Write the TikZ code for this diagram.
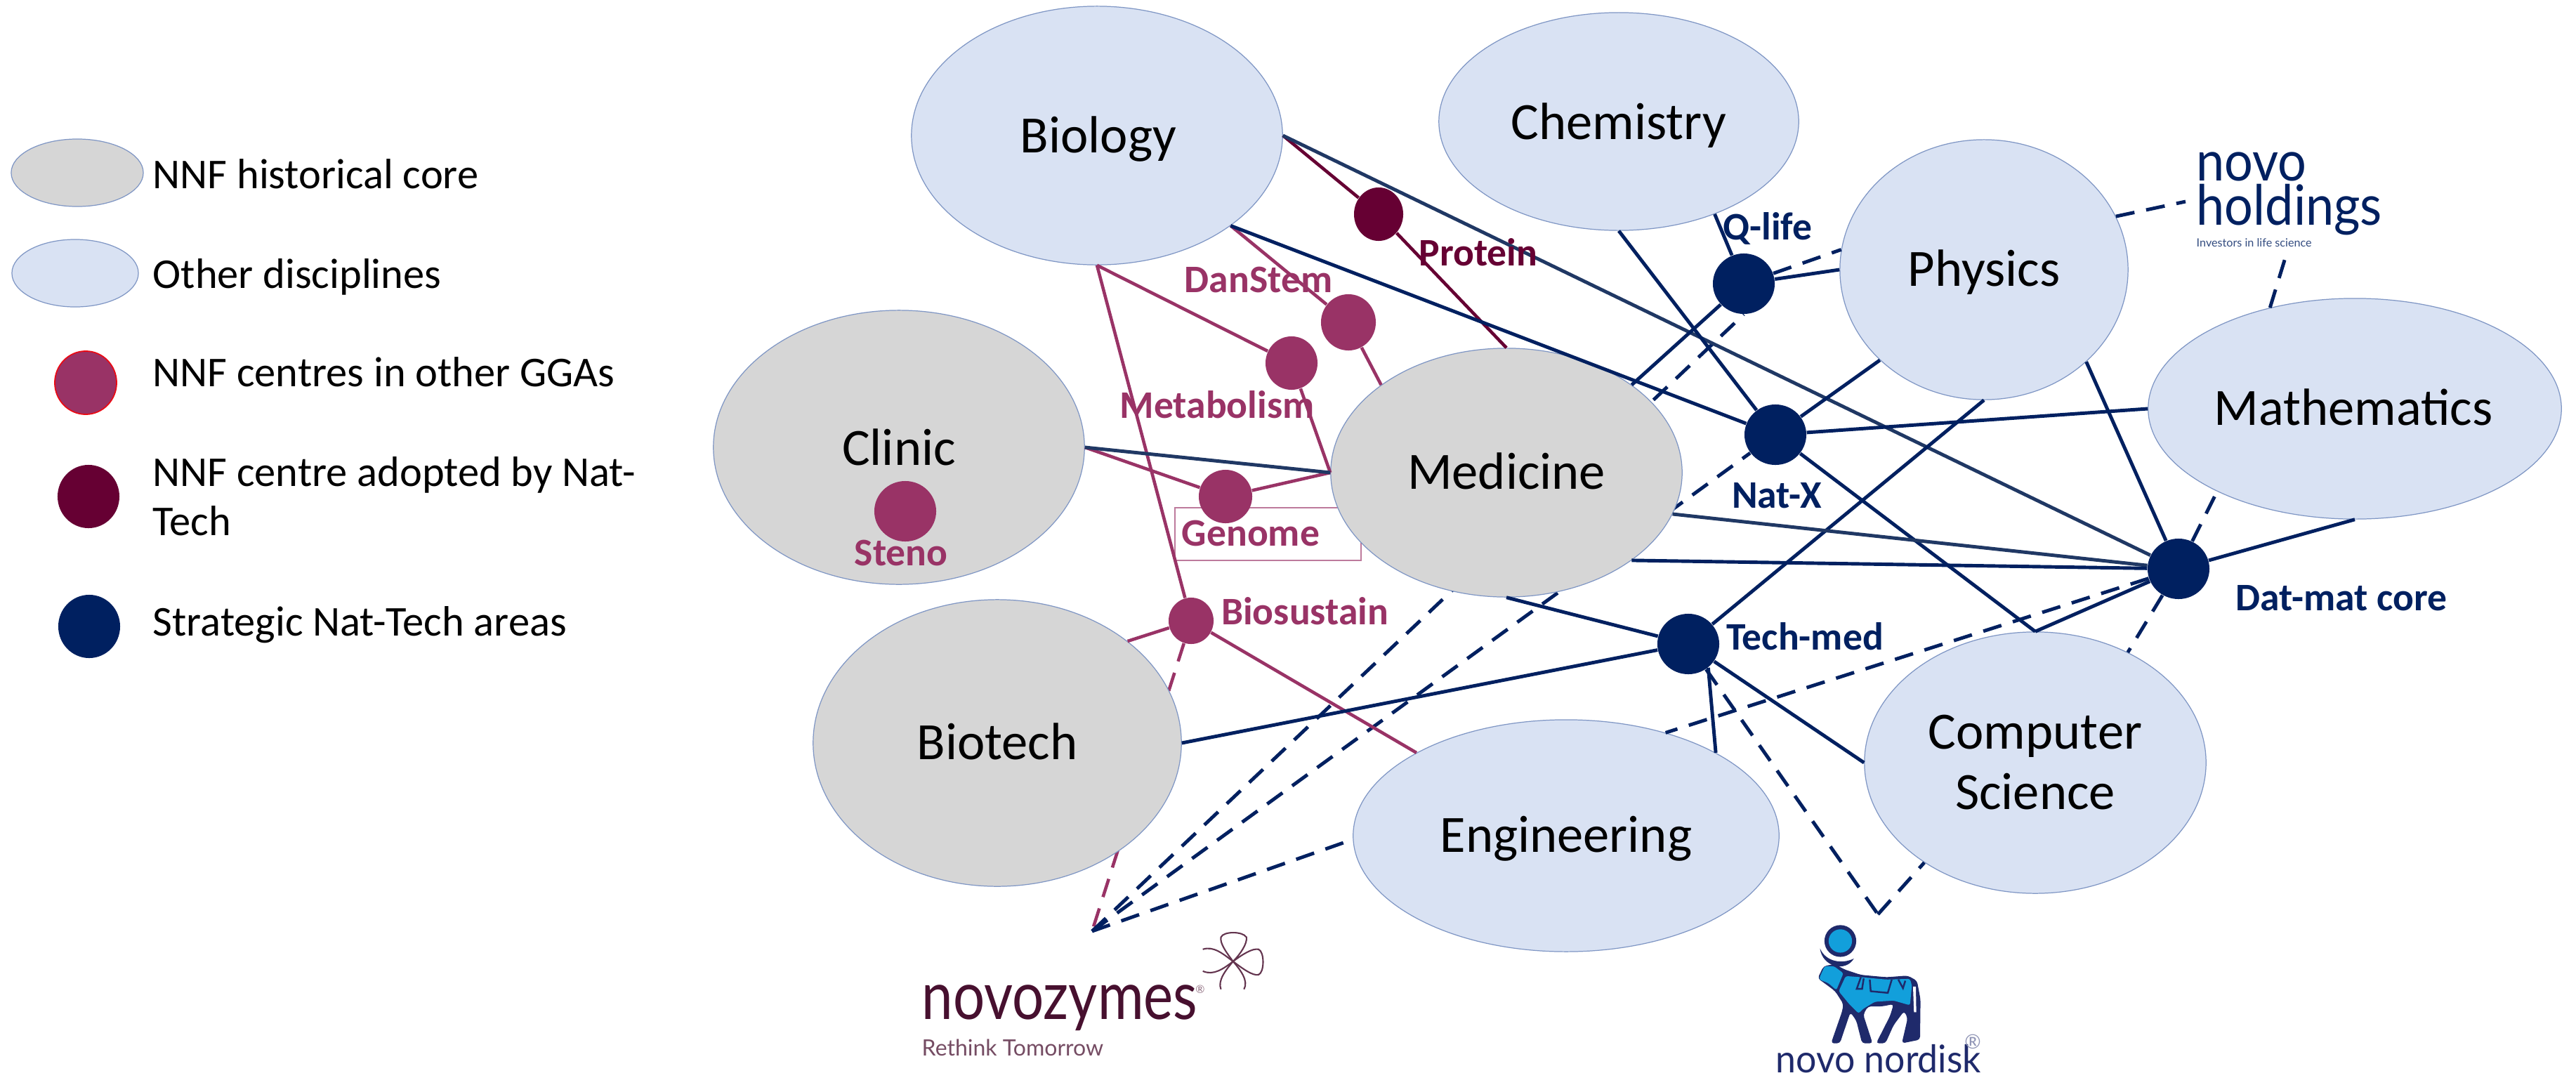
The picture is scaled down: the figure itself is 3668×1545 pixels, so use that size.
\documentclass[tikz,border=0pt]{standalone}
\usepackage{graphicx}
\usepackage{fontspec}
\setmainfont{Carlito}
\newfontfamily\logofont{Lato}
\usetikzlibrary{shapes.geometric}
\pgfdeclarelayer{bg}
\pgfsetlayers{bg,main}
\definecolor{navy}{HTML}{002060}
\definecolor{slate}{HTML}{203864}
\definecolor{mag}{HTML}{993366}
\definecolor{maroon}{HTML}{660033}
\definecolor{coregrey}{HTML}{D6D6D6}
\definecolor{discblue}{HTML}{D9E2F3}
\definecolor{edgeblue}{HTML}{7F96C4}
\definecolor{bullblue}{HTML}{129FDB}
\definecolor{bullnavy}{HTML}{1F2A6B}
\definecolor{zymes}{HTML}{47102F}
\tikzset{
  el/.style n args={2}{ellipse,inner sep=0pt,minimum width=#1*0.02cm,minimum height=#2*0.02cm,draw=edgeblue,line width=0.35pt,text=black,align=center},
  core/.style 2 args={el={#1}{#2},fill=coregrey},
  disc/.style 2 args={el={#1}{#2},fill=discblue},
  dot/.style n args={3}{ellipse,inner sep=0pt,minimum width=#1*0.02cm,minimum height=#2*0.02cm,fill=#3},
  leg/.style={anchor=base west,inner sep=0pt,font=\fontsize{17.2}{20}\selectfont,text=black},
  big/.style={anchor=base,inner sep=0pt,font=\fontsize{21.2}{25}\selectfont,text=black},
  lab/.style={anchor=base,inner sep=0pt,font=\fontsize{15.8}{18}\selectfont\bfseries},
  nv/.style={draw=navy,line width=1.4pt},
  sl/.style={draw=slate,line width=1.4pt},
  mg/.style={draw=mag,line width=1.3pt},
  mr/.style={draw=maroon,line width=1.3pt},
  nvd/.style={nv,dash pattern=on 0.27cm off 0.17cm},
  mgd/.style={mg,dash pattern=on 0.27cm off 0.17cm},
}
\begin{document}
\begin{tikzpicture}[x=0.01cm,y=-0.01cm]
\useasboundingbox (0,0) rectangle (3668,1545);
% legend
\node[core={94}{48}] (lgrey) at (110,246) {};
\node[disc={90}{48}] (lblue) at (107,389) {};
\node[dot={44}{45}{mag},draw=red!80!mag,line width=0.5pt] (lmag) at (122,545) {};
\node[dot={44}{45}{maroon}] (lmar) at (126,707) {};
\node[dot={44}{45}{navy}] (lnav) at (127,892) {};
\node[leg] (t1) at (217,268) {NNF historical core};
\node[leg] (t2) at (217,410) {Other disciplines};
\node[leg] (t3) at (217,550) {NNF centres in other GGAs};
\node[leg] (t4) at (217,692) {NNF centre adopted by Nat-};
\node[leg] (t4b) at (217,762) {Tech};
\node[leg] (t5) at (217,905) {Strategic Nat-Tech areas};
% disciplines
\node[disc={264}{184}] (bio) at (1562,193) {};
\node[core={264}{195}] (cli) at (1280,637) {};
\node[disc={256}{155}] (che) at (2305,173) {};
\node[disc={205}{185}] (phy) at (2825,384) {};
\node[disc={294}{157}] (mat) at (3353,582) {};
\node[core={250}{177}] (med) at (2145,673) {};
\node[core={262}{204}] (bte) at (1420,1058) {};
\node[disc={303}{165}] (eng) at (2230,1190) {};
\node[disc={243}{186}] (css) at (2898,1086) {};
% centres
\node[dot={35}{38}{maroon}] (pro) at (1963,305) {};
\node[dot={39}{40}{mag}] (dan) at (1920,459) {};
\node[dot={37}{38}{mag}] (met) at (1839,517) {};
\node[dot={38}{38}{mag}] (gen) at (1745,707) {};
\node[dot={44}{43}{mag}] (ste) at (1289,728) {};
\node[dot={32}{33}{mag}] (bis) at (1696,884) {};
\node[dot={44}{43}{navy}] (qli) at (2483,404) {};
\node[dot={44}{43}{navy}] (nax) at (2528,619) {};
\node[dot={44}{43}{navy}] (dmc) at (3102,810) {};
\node[dot={44}{43}{navy}] (tec) at (2404,917) {};
% free ends
\coordinate (nz) at (1555,1326);
\coordinate (nn) at (2674,1302);
\coordinate (hl) at (3112,287);
\coordinate (hb) at (3255,364);
% lines behind discs
\begin{pgfonlayer}{bg}
\draw[draw=mag!65,line width=0.4pt] (1673,723) rectangle (1938,798);
\draw[mgd] (bis) -- (nz);
\draw[nvd] (nz) -- (qli.south);
\draw[nvd] (nz) -- (nax);
\end{pgfonlayer}
% magenta + maroon
\draw[mr] (bio.east) -- (pro);
\draw[mr] (pro) -- (med.north);
\draw[mg] (bio.-34.5) -- (dan);
\draw[mg] (dan) -- (med.145.4);
\draw[mg] (bio.south) -- (met);
\draw[mg] (met) -- (med.west);
\draw[mg] (cli.east) -- (gen);
\draw[mg] (gen) -- (med.west);
\draw[mg] (bio.south) -- (bis);
\draw[mg] (bte.38) -- (bis);
\draw[mg] (bis) -- (eng.151.9);
% navy
\draw[sl] (bio.east) -- (dmc);
\draw[nv] (bio.-34.5) -- (nax);
\draw[sl] (cli.east) -- (med.west);
\draw[nv] (che.south) -- (nax);
\draw[nv] (che.-44) -- (qli);
\draw[nv] (qli) -- (phy.west);
\draw[nvd] (qli) -- (phy.172.5);
\draw[nv] (qli) -- (med.35.9);
\draw[nv] (nax) -- (phy.221.7);
\draw[nv] (nax) -- (mat.west);
\draw[nv] (nax) -- (css.north);
\draw[nv] (phy.-42) -- (dmc);
\draw[nv] (phy.south) -- (tec);
\draw[sl] (med.-14.3) -- (dmc);
\draw[nv] (med.-35.2) -- (dmc);
\draw[nv] (med.south) -- (tec);
\draw[nv] (bte.east) -- (tec);
\draw[nv] (tec.-50) -- (eng.29);
\draw[nv] (tec) -- (css.west);
\draw[nv] (dmc) -- (css.north);
\draw[nv] (dmc) -- (mat.south);
\draw[nvd] (dmc) -- (mat.211);
\draw[nvd] (dmc) -- (css.50);
\draw[nvd] (dmc) -- (eng.46);
\draw[nvd] (nz) -- (eng.181);
\draw[nvd] (tec) -- (nn);
\draw[nvd] (nn) -- (css.222.6);
\draw[nvd] (phy.22.6) -- (hl);
\draw[nvd] (mat.130) -- (hb);
% discipline names
\node[big] (nbio) at (1564,217) {Biology};
\node[big] (ncli) at (1280,662) {Clinic};
\node[big] (nche) at (2305,198) {Chemistry};
\node[big] (nphy) at (2825,407) {Physics};
\node[big] (nmat) at (3351,605) {Mathematics};
\node[big] (nmed) at (2145,696) {Medicine};
\node[big] (nbte) at (1420,1081) {Biotech};
\node[big] (neng) at (2230,1213) {Engineering};
\node[big] (ncs1) at (2898,1066) {Computer};
\node[big] (ncs2) at (2898,1152) {Science};
% centre names
\node[lab,text=mag] (lste) at (1283,805) {Steno};
\node[lab,text=mag] (ldan) at (1792,416) {DanStem};
\node[lab,text=mag] (lmet) at (1733,595) {Metabolism};
\node[lab,text=mag] (lgen) at (1781,777) {Genome};
\node[lab,text=mag] (lbis) at (1858,889) {Biosustain};
\node[lab,text=maroon] (lpro) at (2105,378) {Protein};
\node[lab,text=navy] (lqli) at (2517,341) {Q-life};
\node[lab,text=navy] (lnax) at (2530,723) {Nat-X};
\node[lab,text=navy] (ltec) at (2570,925) {Tech-med};
\node[lab,text=navy] (ldmc) at (3334,869) {Dat-mat core};
% novo holdings logo
\node[anchor=base west,inner sep=0pt,text=navy,font=\logofont\fontsize{22.5}{25}\selectfont] (hn1) at (3127,257) {\scalebox{0.91}[1]{novo}};
\node[anchor=base west,inner sep=0pt,text=navy,font=\logofont\fontsize{22.5}{25}\selectfont] (hn2) at (3127,320) {\scalebox{0.91}[1]{holdings}};
\node[anchor=base west,inner sep=0pt,text=navy!80,font=\logofont\fontsize{4.6}{6}\selectfont] (hn3) at (3127,351) {Investors in life science};
% novozymes logo
\node[anchor=base west,inner sep=0pt,text=zymes,font=\logofont\fontsize{27}{30}\selectfont] (nz1) at (1312,1451) {\scalebox{0.84}[1]{novozymes}};
\node[anchor=base west,inner sep=0pt,text=zymes!75,font=\logofont\fontsize{9.1}{10}\selectfont] (nz2) at (1312,1503) {Rethink Tomorrow};
\node[inner sep=0pt,text=zymes!60,font=\logofont\fontsize{4.5}{5}\selectfont] (nz3) at (1709,1409) {®};
\begin{scope}[shift={(1290,1300)},x=0.003448cm,y=-0.003448cm,draw=zymes!85,line width=0.6pt]
\draw (1350,200) .. controls (1320,160) and (1295,125) .. (1300,100) .. controls (1310,75) and (1390,75) .. (1405,100) .. controls (1410,125) and (1380,170) .. (1350,200);
\draw (1350,200) .. controls (1390,170) and (1430,145) .. (1455,150) .. controls (1480,160) and (1480,245) .. (1455,255) .. controls (1430,260) and (1390,230) .. (1350,200);
\draw (1225,150) .. controls (1270,135) and (1310,170) .. (1350,200) .. controls (1310,230) and (1270,260) .. (1225,240);
\draw (1300,315) .. controls (1285,280) and (1320,235) .. (1350,200) .. controls (1380,235) and (1415,280) .. (1395,315);
\end{scope}
% novo nordisk logo
\begin{scope}[shift={(2500,1290)},x=0.00332cm,y=-0.00332cm]
\fill[bullnavy] (362,150) circle[x radius=68,y radius=68];
\fill[bullblue] (362,150) circle[x radius=50,y radius=50];
\fill[bullnavy] (275,182) .. controls (285,262) and (385,285) .. (420,225) .. controls (370,250) and (300,240) .. (275,182) -- cycle;
\fill[bullnavy,rounded corners=1.2pt] (265,310) -- (290,258) -- (340,248) -- (375,270) -- (450,295) -- (560,305) -- (650,298) -- (690,320) -- (705,400) -- (703,572) -- (625,588) -- (650,480) -- (635,450) -- (590,510) -- (555,588) -- (515,588) -- (575,470) -- (590,420) -- (540,430) -- (480,430) -- (460,465) -- (500,588) -- (455,588) -- (430,490) -- (405,455) -- (360,588) -- (322,588) -- (370,450) -- (375,420) -- (340,365) -- (300,335) -- cycle;
\fill[bullblue,rounded corners=0.8pt] (275,302) -- (295,258) -- (335,258) -- (375,288) -- (345,360) -- (310,330) -- (272,315) -- cycle;
\fill[bullblue,rounded corners=0.8pt] (385,300) -- (450,305) -- (560,315) -- (660,312) -- (668,340) -- (660,425) -- (590,405) -- (510,410) -- (460,440) -- (440,460) -- (400,420) -- (355,365) -- cycle;
\draw[bullnavy,line width=0.7pt] (450,305) -- (432,355) -- (455,355) -- (462,310);
\draw[bullnavy,line width=0.7pt] (488,315) -- (492,365) -- (565,372) -- (582,315);
\draw[bullnavy,line width=0.7pt] (610,315) -- (630,352) -- (640,320);
\fill[white] (673,345) -- (685,345) -- (687,455) -- (677,455) -- cycle;
\end{scope}
\node[anchor=base west,inner sep=0pt,text=bullnavy,font=\logofont\fontsize{15.5}{18}\selectfont] (nn1) at (2528,1527) {\scalebox{0.95}[1]{novo nordisk}};
\node[inner sep=0pt,text=bullnavy!50,font=\logofont\fontsize{8}{8}\selectfont] (nn2) at (2809,1483) {®};
\end{tikzpicture}
\end{document}
